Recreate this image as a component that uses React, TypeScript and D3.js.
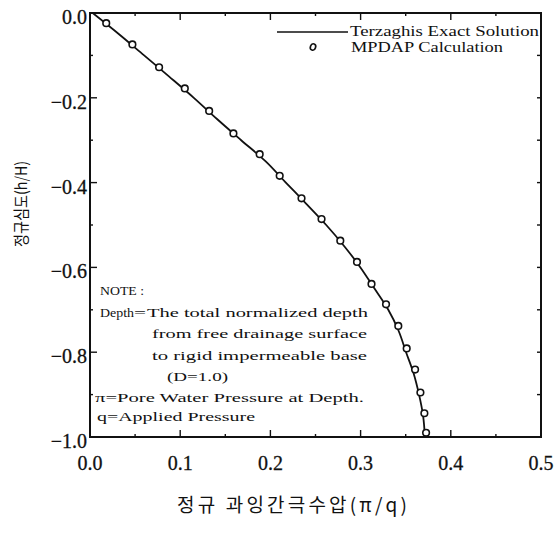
import React from "react";
import * as d3 from "d3";

// Terzaghi exact solution: normalized depth (h/H, positive downward) vs excess pore pressure (π/q)
const exactDepth = [0, 0.05, 0.1, 0.15, 0.2, 0.25, 0.3, 0.35, 0.4, 0.45, 0.5, 0.55, 0.6, 0.65, 0.7, 0.75, 0.8, 0.85, 0.9, 0.95, 1.0];
const exactPressure = [0.003, 0.0322, 0.06, 0.0878, 0.1151, 0.1408, 0.1676, 0.1948, 0.2171, 0.2398, 0.2619, 0.2819, 0.2998, 0.3154, 0.3307, 0.3422, 0.3504, 0.3588, 0.3648, 0.3693, 0.3713];

// MPDAP calculation results
const mpdapDepth = [0.024, 0.074, 0.128, 0.178, 0.231, 0.284, 0.333, 0.384, 0.437, 0.486, 0.537, 0.587, 0.639, 0.687, 0.738, 0.791, 0.841, 0.895, 0.944, 0.99];
const mpdapPressure = [0.018, 0.047, 0.0766, 0.1051, 0.1321, 0.159, 0.1881, 0.2103, 0.2345, 0.2567, 0.2775, 0.296, 0.3121, 0.3282, 0.3418, 0.3511, 0.3604, 0.3663, 0.3707, 0.3726];

const xTicks = [0, 0.1, 0.2, 0.3, 0.4, 0.5];
const yTicks = [0, -0.2, -0.4, -0.6, -0.8, -1.0];

const legendLine = "Terzaghis Exact Solution";
const legendMarker = "MPDAP Calculation";
const xTitle = "정규 과잉간극수압(π/q)";
const yTitle = "정규심도(h/H)";

const serif = '"Liberation Serif", "DejaVu Serif", serif';
const cjk = '"Noto Sans CJK KR", sans-serif';

export default function App() {
  const left = 90, right = 541, top = 13, bottom = 437;
  const x = d3.scaleLinear().domain([0, 0.5]).range([left, right]);
  const y = d3.scaleLinear().domain([0, -1]).range([top, bottom]);
  const fmt = d3.format(".1f");

  const exact = exactDepth.map((d, i) => [exactPressure[i], -d] as [number, number]);
  const line = d3
    .line<[number, number]>()
    .x((d) => x(d[0]))
    .y((d) => y(d[1]))
    .curve(d3.curveMonotoneY);

  const xMinor = d3.range(0, 0.5001, 0.05);
  const yMinor = d3.range(0, -1.0001, -0.1);
  const serifStyle = { fontFamily: serif };

  return (
    <svg
      width={557}
      height={538}
      style={{ position: "fixed", left: 0, top: 0, background: "#fff", fontFamily: serif }}
    >
      <rect x={0} y={0} width={557} height={538} fill="#fff" />
      <defs>
        <clipPath id="plot">
          <rect x={left} y={top} width={right - left} height={bottom - top} />
        </clipPath>
      </defs>

      {/* ticks along the four sides */}
      {xMinor.map((v, i) => {
        const major = i % 2 === 0;
        const len = major ? 7 : 3;
        return (
          <g key={"xt" + i} stroke="#111" strokeWidth={1.4}>
            <line x1={x(v)} x2={x(v)} y1={bottom} y2={bottom - len} />
            <line x1={x(v)} x2={x(v)} y1={top} y2={top + len} />
          </g>
        );
      })}
      {yMinor.map((v, i) => {
        const major = i % 2 === 0;
        return (
          <g key={"yt" + i} stroke="#111" strokeWidth={1.4}>
            <line x1={left} x2={left + (major ? 7 : 3)} y1={y(v)} y2={y(v)} />
            <line x1={right} x2={right - 4} y1={y(v)} y2={y(v)} />
          </g>
        );
      })}

      {/* frame */}
      <rect x={left} y={top} width={right - left} height={bottom - top} fill="none" stroke="#111" strokeWidth={2} />

      {/* tick labels */}
      {xTicks.map((v) => (
        <text key={"xl" + v} x={x(v)} y={470} textAnchor="middle" fontSize={20} fill="#111" stroke="#111" strokeWidth={0.3} style={serifStyle}>
          {fmt(v)}
        </text>
      ))}
      {yTicks.map((v) => (
        <text key={"yl" + v} x={left - 3} y={y(v) + 11} textAnchor="end" fontSize={20} fill="#111" stroke="#111" strokeWidth={0.3} style={serifStyle}>
          {fmt(v)}
        </text>
      ))}

      {/* exact solution curve */}
      <path d={line(exact) || ""} fill="none" stroke="#111" strokeWidth={1.8} clipPath="url(#plot)" />

      {/* MPDAP points */}
      {mpdapDepth.map((d, i) => (
        <circle
          key={"p" + i}
          cx={x(mpdapPressure[i])}
          cy={y(-d)}
          r={3.3}
          fill="#fff"
          stroke="#111"
          strokeWidth={1.6}
          clipPath="url(#plot)"
        />
      ))}

      {/* legend */}
      <line x1={277} x2={348} y1={32} y2={32} stroke="#111" strokeWidth={1.6} />
      <text x={350} y={36} fontSize={14} fill="#111" style={serifStyle} textLength={189} lengthAdjust="spacingAndGlyphs">
        {legendLine}
      </text>
      <ellipse cx={313} cy={47} rx={2.6} ry={3.3} fill="#fff" stroke="#111" strokeWidth={1.6} transform="rotate(20 313 47)" />
      <text x={351} y={52} fontSize={14} fill="#111" style={serifStyle} textLength={152} lengthAdjust="spacingAndGlyphs">
        {legendMarker}
      </text>

      {/* note */}
      <g fontSize={13.5} fill="#111" style={serifStyle}>
        <text x={100} y={295} textLength={44} lengthAdjust="spacingAndGlyphs">NOTE :</text>
        <text x={100} y={316.5} textLength={34} lengthAdjust="spacingAndGlyphs">Depth</text>
        <text x={134} y={316.5} textLength={12} lengthAdjust="spacingAndGlyphs">=</text>
        <text x={147} y={316.5} textLength={221} lengthAdjust="spacingAndGlyphs">The total normalized depth</text>
        <text x={152} y={338} textLength={215} lengthAdjust="spacingAndGlyphs">from free drainage surface</text>
        <text x={152} y={359.5} textLength={215} lengthAdjust="spacingAndGlyphs">to rigid impermeable base</text>
        <text x={167} y={381} textLength={61} lengthAdjust="spacingAndGlyphs">(D=1.0)</text>
        <text x={95} y={402} textLength={269} lengthAdjust="spacingAndGlyphs">π=Pore Water Pressure at Depth.</text>
        <text x={97} y={421} textLength={158} lengthAdjust="spacingAndGlyphs">q=Applied Pressure</text>
      </g>

      {/* axis titles */}
      <text
        x={292}
        y={512}
        textAnchor="middle"
        fontSize={19}
        fill="#111"
        style={{ fontFamily: cjk }}
        textLength={230}
        lengthAdjust="spacing"
      >
        {xTitle}
      </text>
      <text
        transform="translate(27 204) rotate(-90)"
        textAnchor="middle"
        fontSize={16}
        fill="#111"
        style={{ fontFamily: cjk }}
        textLength={86}
        lengthAdjust="spacingAndGlyphs"
      >
        {yTitle}
      </text>
    </svg>
  );
}
